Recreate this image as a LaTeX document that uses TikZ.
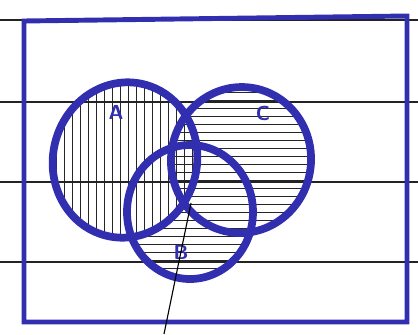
\documentclass[tikz,border=0pt]{standalone}
\usepackage{tikz}
\usetikzlibrary{calc}
\definecolor{Tinta}{RGB}{50,46,176}
\definecolor{Renglon}{RGB}{35,35,35}
\tikzset{
  penline/.style={draw=Tinta, line width=#1},
  penline/.default=5.5pt,
  ruleline/.style={draw=Renglon, line width=1pt},
  hatchline/.style={draw=black!85, line width=0.7pt},
  pointer/.style={draw=black, line width=0.8pt},
  setlabel/.style={text=Tinta, font=\Large\bfseries\sffamily, inner sep=0pt},
}
% ---- los tres conjuntos (coordenadas en pixeles) ----
\newcommand{\conjA}{(125,160) ellipse [x radius=72, y radius=78, rotate=-14]}
\newcommand{\conjC}{(241,160) ellipse [x radius=70, y radius=73, rotate=-8]}
\newcommand{\conjB}{(190,212) ellipse [x radius=63, y radius=67]}

\begin{document}
\begin{tikzpicture}[x=0.025cm, y=-0.025cm]
    \useasboundingbox (0,0) rectangle (418,334);
    % rayado horizontal de B
    \begin{scope}
      \clip \conjB;
      \foreach \y in {84,92,...,292} \draw[hatchline] (120,\y) -- (260,\y);
    \end{scope}
    % rayado vertical de A
    \begin{scope}
      \clip \conjA;
      \fill[white] (40,70) rectangle (210,250);
      \foreach \x in {48,56,...,210} \draw[hatchline] (\x,70) -- (\x,250);
    \end{scope}
    % rayado horizontal de C
    \begin{scope}
      \clip \conjC;
      \foreach \y in {84,92,...,292} \draw[hatchline] (160,\y) -- (320,\y);
    \end{scope}
    % renglones del cuaderno
    \foreach \y in {20,102,182,262} \draw[ruleline] (0,\y) -- (418,\y);
    \draw[penline] \conjA;
    \draw[penline] \conjC;
    \draw[penline] \conjB;
    \draw[penline=3.5pt] (24,21) -- (407,16) -- (407,322) -- (24,322) -- cycle;
    \node[setlabel] (etqA) at (116,112) {A};
    \node[setlabel] (etqC) at (263,113) {C};
    \node[setlabel] (etqB) at (181,252) {B};
    \coordinate (cruce) at (191,203);
    \coordinate (pie) at (164,334);
    \draw[pointer] (cruce) -- (pie);
  \end{tikzpicture}
\end{document}
